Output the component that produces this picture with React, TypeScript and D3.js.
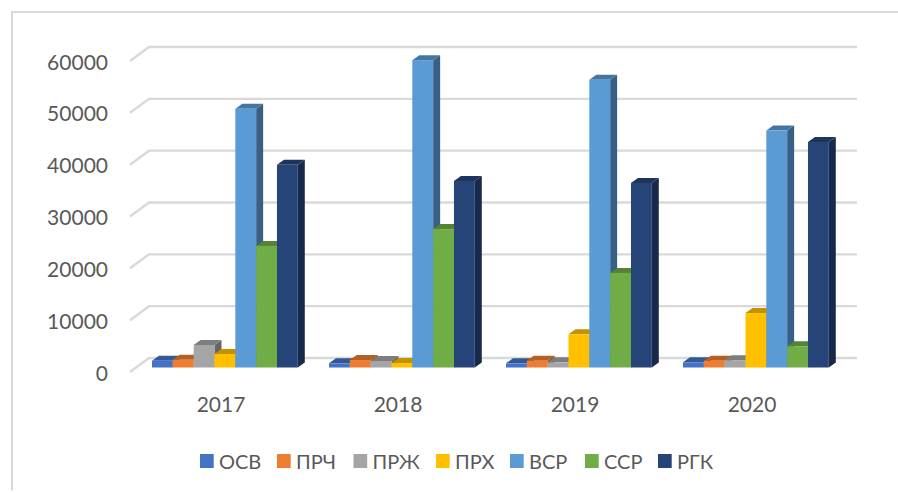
import React from "react";
import * as d3 from "d3";

const years = ["2017", "2018", "2019", "2020"];
const seriesNames = ["ОСВ", "ПРЧ", "ПРЖ", "ПРХ", "ВСР", "ССР", "РГК"];
const osv = [1300, 800, 800, 1000];
const prch = [1500, 1450, 1300, 1300];
const przh = [4350, 1250, 1000, 1400];
const prh = [2600, 850, 6400, 10500];
const vsr = [49900, 59300, 55500, 45700];
const ssr = [23450, 26700, 18250, 4100];
const rgk = [39100, 36000, 35600, 43500];
const seriesValues = [osv, prch, przh, prh, vsr, ssr, rgk];
const colors = ["#4472c4", "#ed7d31", "#a5a5a5", "#ffc000", "#5b9bd5", "#70ad47", "#264478"];
const ticks = [0, 10000, 20000, 30000, 40000, 50000, 60000];
const legendSquareX = [200, 277, 353.5, 436, 510, 585, 658];

const W = 898;
const H = 493;
const FONT = "Lato, 'Noto Sans', sans-serif";
const TEXT = "#595959";
const GRID = "#d9d9d9";

const yBack = d3.scaleLinear().domain([0, 60000]).range([358, 47]);
const yBar = d3.scaleLinear().domain([0, 60000]).range([367.5, 56.5]);
const x0 = d3.scaleBand<string>().domain(years).range([136.5, 844.5]);
const x1 = d3.scaleBand<string>().domain(seriesNames).range([15.5, 161.3]);

const wallDx = 19;
const wallDy = 14;
const barDx = 7;
const barDy = 5;

function shade(c: string, k: number) {
  const r = d3.rgb(c);
  return d3.rgb(r.r * k, r.g * k, r.b * k).formatHex();
}

export default function App() {
  const w = x1.bandwidth();
  const poly = d3.line<[number, number]>();
  return (
    <svg width={W} height={H} style={{ position: "absolute", left: 0, top: 0, background: "#fff" }}>
      <path d="M12 490.5V12H898" fill="none" stroke={GRID} strokeWidth={2} />
      {ticks.map((t) => {
        const yb = yBack(t);
        return (
          <g key={t}>
            <path
              d={`M${149 - wallDx} ${yb + wallDy}L149 ${yb}H857`}
              fill="none"
              stroke={GRID}
              strokeWidth={2.4}
            />
            <text
              x={108}
              y={yb + wallDy}
              textAnchor="end"
              dominantBaseline="central"
              fontFamily={FONT}
              fontSize={21}
              fill={TEXT}
            >
              {t}
            </text>
          </g>
        );
      })}
      {years.map((yr, yi) => (
        <g key={yr}>
          {seriesNames.map((s, si) => {
            const x = (x0(yr) as number) + (x1(s) as number);
            const y = yBar(seriesValues[si][yi]);
            const base = yBar(0);
            const c = colors[si];
            const side: [number, number][] = [
              [x + w, y],
              [x + w + barDx, y - barDy],
              [x + w + barDx, base - barDy],
              [x + w, base],
            ];
            const top: [number, number][] = [
              [x, y],
              [x + barDx, y - barDy],
              [x + w + barDx, y - barDy],
              [x + w, y],
            ];
            return (
              <g key={s}>
                <path d={poly(side) + "Z"} fill={shade(c, 0.62)} />
                <path d={poly(top) + "Z"} fill={shade(c, 0.76)} />
                <rect x={x} y={y} width={w} height={base - y} fill={c} />
              </g>
            );
          })}
          <text
            x={(x0(yr) as number) + x0.bandwidth() / 2 - 4}
            y={403}
            textAnchor="middle"
            dominantBaseline="central"
            fontFamily={FONT}
            fontSize={21}
            fill={TEXT}
          >
            {yr}
          </text>
        </g>
      ))}
      {seriesNames.map((s, i) => (
        <g key={s}>
          <rect x={legendSquareX[i]} y={454} width={13.7} height={14} fill={colors[i]} />
          <text
            x={legendSquareX[i] + 19}
            y={461}
            dominantBaseline="central"
            fontFamily={FONT}
            fontSize={20}
            fill={TEXT}
          >
            {s}
          </text>
        </g>
      ))}
    </svg>
  );
}
